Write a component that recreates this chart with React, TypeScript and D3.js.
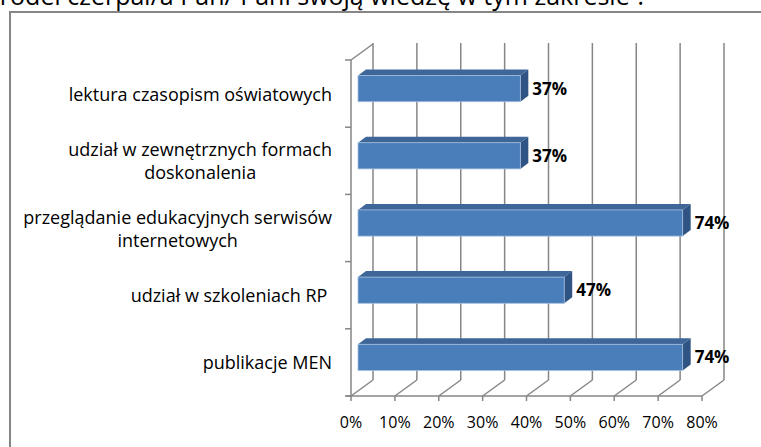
import React, { useMemo } from "react";
import * as d3 from "d3";

const TITLE = "Z jakich źródeł czerpał/a Pan/ Pani swoją wiedzę w tym zakresie ?";
const categories: string[][] = [
  ["lektura czasopism oświatowych"],
  ["udział w zewnętrznych formach", "doskonalenia"],
  ["przeglądanie edukacyjnych serwisów", "internetowych"],
  ["udział w szkoleniach RP "],
  ["publikacje MEN"],
];
const values = [0.37, 0.37, 0.74, 0.47, 0.74];
const ticks = [0, 0.1, 0.2, 0.3, 0.4, 0.5, 0.6, 0.7, 0.8];

const W = 761, H = 447;
const FONT = "'Open Sans', 'Liberation Sans', sans-serif";

export default function App() {
  // front plane
  const X0 = 351, YTOP = 60, YBOT = 396;
  const DX = 22, DY = -16; // full depth
  const x = d3.scaleLinear().domain([0, 0.8]).range([X0, X0 + 351]);
  const y = d3.scaleBand<number>().domain(d3.range(categories.length)).range([YTOP, YBOT]).padding(0);
  const bw = y.bandwidth();
  const barH = bw * 0.39;
  const bOffX = 7, bOffY = -5; // bar front depth offset
  const bDX = 8, bDY = -6; // bar depth

  const measure = useMemo(() => {
    const c = document.createElement("canvas").getContext("2d")!;
    c.font = `18px ${FONT}`;
    return (s: string) => c.measureText(s).width;
  }, []);

  const grid = "#868686";
  const labelRight = 332;

  return (
    <svg width={W} height={H} style={{ position: "absolute", left: 0, top: 0, background: "#fff" }}>
      <text x={647} y={5} textAnchor="end" fontFamily={FONT} fontSize={25} fill="#000">{TITLE}</text>
      <rect x={10} y={12} width={800} height={500} fill="#fff" stroke="#868686" strokeWidth={2} />
      {/* back wall gridlines */}
      {ticks.map((t, i) => (
        <g key={i}>
          <line x1={x(t) + DX} x2={x(t) + DX} y1={YTOP + DY - 1} y2={YBOT + DY} stroke={grid} strokeWidth={1.5} />
          <line x1={x(t)} y1={YBOT} x2={x(t) + DX} y2={YBOT + DY} stroke={grid} strokeWidth={1.5} />
          <line x1={x(t)} x2={x(t)} y1={YBOT} y2={YBOT + 5} stroke={grid} strokeWidth={1.5} />
          <text x={x(t)} y={428} textAnchor="middle" fontFamily={FONT} fontSize={16} fill="#000">
            {d3.format(".0%")(t)}
          </text>
        </g>
      ))}
      {/* left wall */}
      <line x1={X0} x2={X0} y1={YTOP} y2={YBOT} stroke={grid} strokeWidth={1.5} />
      <line x1={X0} y1={YTOP} x2={X0 + DX} y2={YTOP + DY} stroke={grid} strokeWidth={1.5} />
      <line x1={X0 - 5} x2={x(0.8)} y1={YBOT} y2={YBOT} stroke={grid} strokeWidth={1.5} />
      {d3.range(categories.length + 1).map((i) => {
        const yy = YTOP + i * bw;
        return <line key={i} x1={X0 - 6} x2={X0} y1={yy} y2={yy} stroke={grid} strokeWidth={1.5} />;
      })}
      {/* bars */}
      {values.map((v, i) => {
        const cy = y(i)! + bw / 2 + bOffY;
        const x0 = x(0) + bOffX;
        const x1 = x(v) + bOffX;
        const y0 = cy - barH / 2;
        const y1 = cy + barH / 2;
        return (
          <g key={i}>
            <path d={`M${x0},${y0}L${x0 + bDX},${y0 + bDY}L${x1 + bDX},${y0 + bDY}L${x1},${y0}Z`} fill="#3E6698" />
            <path d={`M${x1},${y0}L${x1 + bDX},${y0 + bDY}L${x1 + bDX},${y1 + bDY}L${x1},${y1}Z`} fill="#2F5382" />
            <rect x={x0} y={y0} width={x1 - x0} height={y1 - y0} fill="#4A7EBB" stroke="#A3BEDF" strokeWidth={0.8} />
            <text x={x1 + bDX + 4} y={cy + 6} fontFamily={FONT} fontWeight="bold" fontSize={17} fill="#000">
              {d3.format(".0%")(v)}
            </text>
          </g>
        );
      })}
      {/* category labels */}
      {categories.map((lines, i) => {
        const wmax = Math.max(...lines.map(measure));
        const cxm = labelRight - wmax / 2;
        const lh = 23;
        const cy = y(i)! + bw / 2 + 1;
        return (
          <text key={i} fontFamily={FONT} fontSize={18} fill="#000" textAnchor="middle">
            {lines.map((l, j) => (
              <tspan key={j} x={cxm} y={cy - ((lines.length - 1) * lh) / 2 + j * lh + 6} style={{ whiteSpace: "pre" }}>
                {l}
              </tspan>
            ))}
          </text>
        );
      })}
    </svg>
  );
}
